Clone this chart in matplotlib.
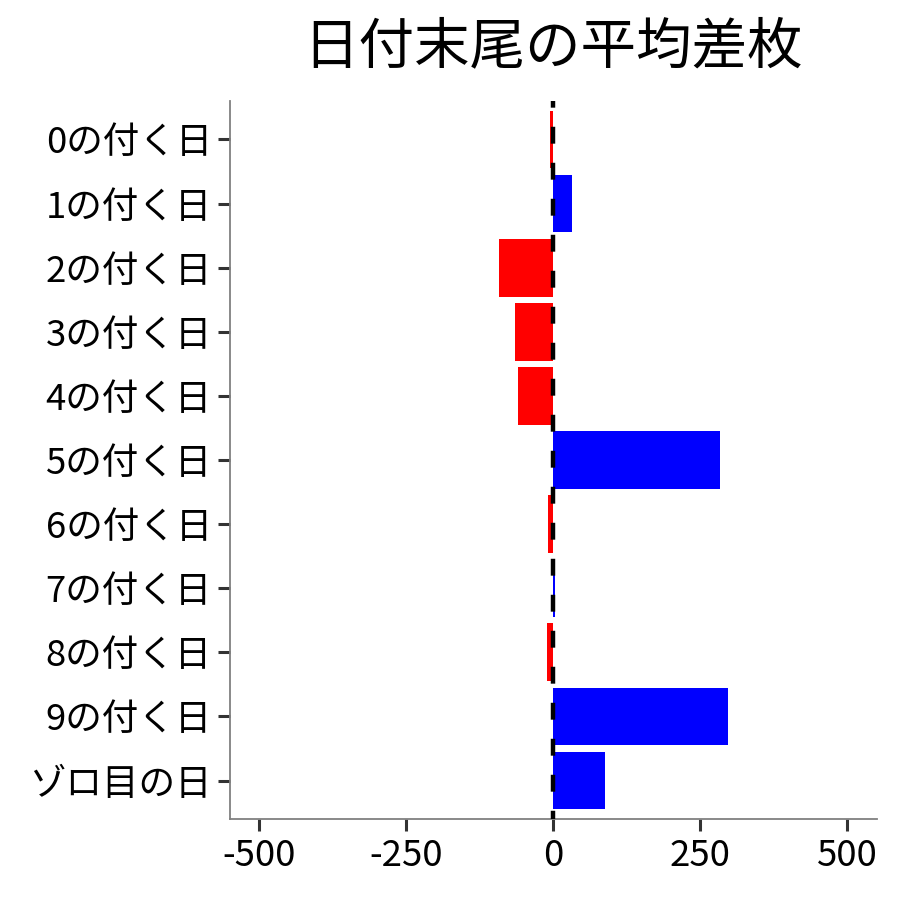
import matplotlib
matplotlib.use("Agg")
import matplotlib.pyplot as plt

plt.rcParams['font.family'] = ['Noto Sans CJK JP', 'DejaVu Sans']

categories = ["0の付く日", "1の付く日", "2の付く日", "3の付く日", "4の付く日",
              "5の付く日", "6の付く日", "7の付く日", "8の付く日", "9の付く日", "ゾロ目の日"]
values = [-6, 31, -93, -65, -60, 283, -9, 2, -11, 297, 88]
xticks = [-500, -250, 0, 250, 500]
title = "日付末尾の平均差枚"

fig = plt.figure(figsize=(9, 9), dpi=100)
ax = fig.add_axes([230/900, 1 - 819/900, (876.7 - 230)/900, (819 - 101)/900])

ypos = list(range(len(categories)))
colors = ["#0000FF" if v > 0 else "#FF0000" for v in values]
ax.barh(ypos, values, height=0.9, color=colors, zorder=2)

ax.plot([0, 0], [-0.6, len(categories) - 0.4], color="black", lw=3.2,
        linestyle=(2.3, (3.8, 4.3)), zorder=3, solid_capstyle="butt",
        dash_capstyle="butt")

ax.set_xlim(-550, 550)
ax.set_ylim(len(categories) - 0.4, -0.6)
ax.set_yticks(ypos)
ax.set_yticklabels(categories)
ax.set_xticks(xticks)
ax.set_xticklabels([str(t) for t in xticks])

for s in ["top", "right"]:
    ax.spines[s].set_visible(False)
for s in ["left", "bottom"]:
    ax.spines[s].set_color("#808080")
    ax.spines[s].set_linewidth(1.3)

ax.tick_params(axis="both", length=8.5, width=2.2, color="#333333",
               labelsize=26.3, labelcolor="black")
ax.tick_params(axis="y", pad=4.5)
ax.tick_params(axis="x", pad=5)

fig.text(553/900, 1 - 47/900, title, fontsize=40, ha="center", va="center")

fig.savefig("out.png", dpi=100)
